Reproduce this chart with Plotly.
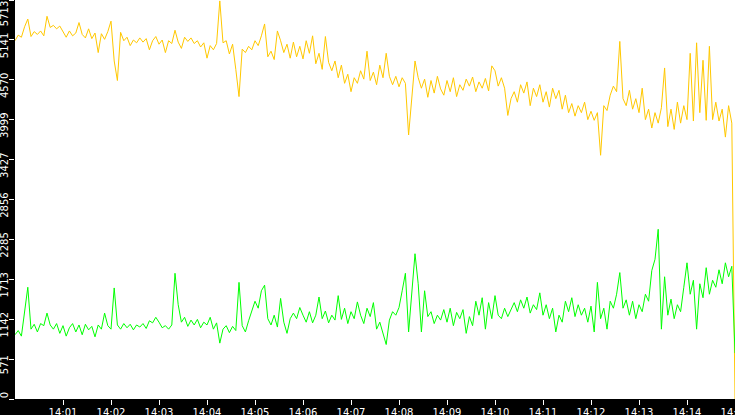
import plotly.graph_objects as go

# sample times: every 4 s from 14:00:00, final sample at 14:15:00
n_regular = 225
seconds = [4 * i for i in range(n_regular)] + [900]
times = ["2024-01-01 14:%02d:%02d" % (s // 60, s % 60) for s in seconds]

yellow_values = [
    5130, 5210, 5180, 5330, 5440, 5190, 5260, 5220, 5270, 5200, 5480, 5320, 5350, 5300, 5340,
    5250, 5180, 5270, 5200, 5240, 5390, 5220, 5170, 5300, 5160, 5240, 4960, 5230, 5150, 5260,
    5410, 4840, 4560, 5250, 5130, 5180, 5060, 5140, 5100, 5170, 5110, 5160, 5000, 5130, 5190,
    5080, 5140, 4960, 5130, 5090, 5280, 5110, 5020, 5180, 5120, 5170, 5090, 5130, 5040, 5100,
    4880, 5060, 5000, 5090, 5700, 5100, 5130, 4940, 5080, 4720, 4330, 5010, 4960, 5050, 5000,
    5130, 5060, 5200, 5370, 4900, 4980, 4860, 5270, 5130, 4960, 5080, 4880, 5110, 4900, 5050,
    4870, 5130, 4950, 5200, 4800, 4950, 4720, 5190, 4820, 4700, 4840, 4600, 4780, 4520, 4650,
    4400, 4600, 4520, 4700, 4580, 4980, 4560, 4680, 4500, 4780, 4600, 4950, 4620, 4500, 4620,
    4470, 4600, 4520, 3780, 4300, 4840, 4600, 4450, 4580, 4320, 4560, 4380, 4620, 4440, 4350,
    4560, 4400, 4600, 4330, 4500, 4420, 4580, 4480, 4610, 4400, 4540, 4450, 4590, 4410, 4770,
    4700, 4480, 4600, 4450, 4060, 4300, 4400, 4250, 4500, 4380, 4540, 4200, 4450, 4330, 4500,
    4250, 4400, 4180, 4450, 4300, 4420, 4150, 4350, 4100, 4230, 4050, 4200, 4100, 4250, 4000,
    4120, 3990, 4100, 3490, 4200, 4130, 4350, 4480, 4400, 5120, 4300, 4200, 4420, 4150, 4300,
    4100, 4450, 4000, 4150, 3880, 4100, 3950, 4170, 4740, 3900, 4150, 3860, 4250, 3950, 4200,
    4000, 4950, 3980, 5100, 4100, 4850, 3990, 5050, 4000, 4250, 3980, 4150, 3750, 4200, 3950,
    0,
]

green_values = [
    920, 980, 900, 1250, 1600, 1000, 1070, 960, 1080, 1050, 1230, 1060, 1000, 1080, 940,
    1050, 900, 1020, 1080, 960, 1060, 920, 1070, 990, 1040, 890, 1060, 1000, 1230, 1050,
    1000, 1590, 1060, 1000, 1080, 1020, 1070, 990, 1060, 1030, 1080, 1010, 1120, 1090, 1170,
    1100, 1020, 1050, 1000, 1060, 1800, 1350, 1100, 1170, 1040, 1130, 1060, 1140, 1020, 1100,
    1060, 1170, 1000, 1090, 800, 1000, 1050, 950, 1040, 980, 1670, 1050, 960, 1120, 1250,
    1400, 1300, 1550, 1630, 1150, 1060, 1200, 1030, 1440, 1100, 940, 1150, 1230, 1150, 1310,
    1200, 1100, 1250, 1090, 1200, 1460, 1150, 1260, 1090, 1200, 1130, 1480, 1140, 1300, 1080,
    1250, 1150, 1390, 1200, 1080, 1300, 1180, 1380, 1000, 1100, 920, 780, 1130, 1250, 1200,
    1310, 1550, 1800, 960, 1500, 2080, 1650, 960, 1550, 1180, 1250, 1080, 1200, 1130, 1280,
    1100, 1300, 1050, 1240, 1150, 1280, 940, 1180, 1050, 1400, 1200, 1450, 1000, 1380, 1150,
    1480, 1200, 1150, 1300, 1180, 1290, 1380, 1250, 1420, 1300, 1460, 1230, 1350, 1280, 1520,
    1200, 1350, 1150, 1300, 960, 1200, 1100, 1400, 1250, 1450, 1180, 1350, 1200, 1300, 1100,
    1330, 960, 1670, 1150, 1300, 1000, 1400, 1300, 1500, 1810, 1300, 1420, 1200, 1400, 1150,
    1350, 1250, 1500, 1400, 1840, 2000, 2430, 1000, 1750, 1200, 1430, 1150, 1350, 1250, 1600,
    1950, 1500, 1700, 1000, 1650, 1450, 1880, 1500, 1700, 1600, 1850, 1650, 1950, 1750, 1900,
    657,
]

y_tick_values = [0, 571, 1142, 1713, 2285, 2856, 3427, 3999, 4570, 5141, 5713]
y_tick_labels = ["0", "571", "1142", "1713", "2285", "2856", "3427", "3999", "4570", "5141", "5713"]
x_tick_labels = ["14:01", "14:02", "14:03", "14:04", "14:05", "14:06", "14:07", "14:08",
                 "14:09", "14:10", "14:11", "14:12", "14:13", "14:14", "14:15"]
x_tick_values = ["2024-01-01 " + s + ":00" for s in x_tick_labels]

# keep the end labels inside the figure (as in the original): pad with non-breaking spaces
NB = "\u00a0"
y_tick_text = list(y_tick_labels)
y_tick_text[0] = NB * 6 + y_tick_text[0]
y_tick_text[-1] = y_tick_text[-1] + NB * 5

fig = go.Figure()
fig.add_trace(go.Scatter(x=times, y=yellow_values, mode="lines",
                         line=dict(color="#FFC800", width=1), showlegend=False))
fig.add_trace(go.Scatter(x=times, y=green_values, mode="lines",
                         line=dict(color="#00FF00", width=1), showlegend=False))

fig.update_layout(
    width=735, height=415,
    autosize=False,
    margin=dict(l=15, r=0, t=0, b=16, pad=0, autoexpand=False),
    paper_bgcolor="black", plot_bgcolor="white",
    font=dict(family="DejaVu Sans", size=10, color="white"),
    xaxis=dict(
        type="date",
        range=["2024-01-01 14:00:00", "2024-01-01 14:15:00"],
        autorange=False,
        tickvals=x_tick_values, ticktext=x_tick_labels,
        ticks="outside", ticklen=5, tickcolor="white", tickwidth=1,
        ticklabelstandoff=-1,
        showgrid=False, zeroline=False, showline=False,
        automargin=False, ticklabeloverflow="allow",
        tickfont=dict(family="DejaVu Sans", size=10, color="white"),
    ),
    yaxis=dict(
        range=[0, 5713],
        autorange=False,
        tickvals=y_tick_values, ticktext=y_tick_text,
        tickangle=-90,
        ticks="outside", ticklen=5, tickcolor="white", tickwidth=1,
        ticklabelshift=7, ticklabelstandoff=-3,
        showgrid=False, zeroline=False, showline=False,
        automargin=False, ticklabeloverflow="allow",
        tickfont=dict(family="DejaVu Sans", size=10, color="white"),
    ),
)

fig.write_html(
    "out.html",
    config={"displayModeBar": False},
    post_script="document.body.style.margin='0';document.body.style.overflow='hidden';document.body.style.background='black';",
)
